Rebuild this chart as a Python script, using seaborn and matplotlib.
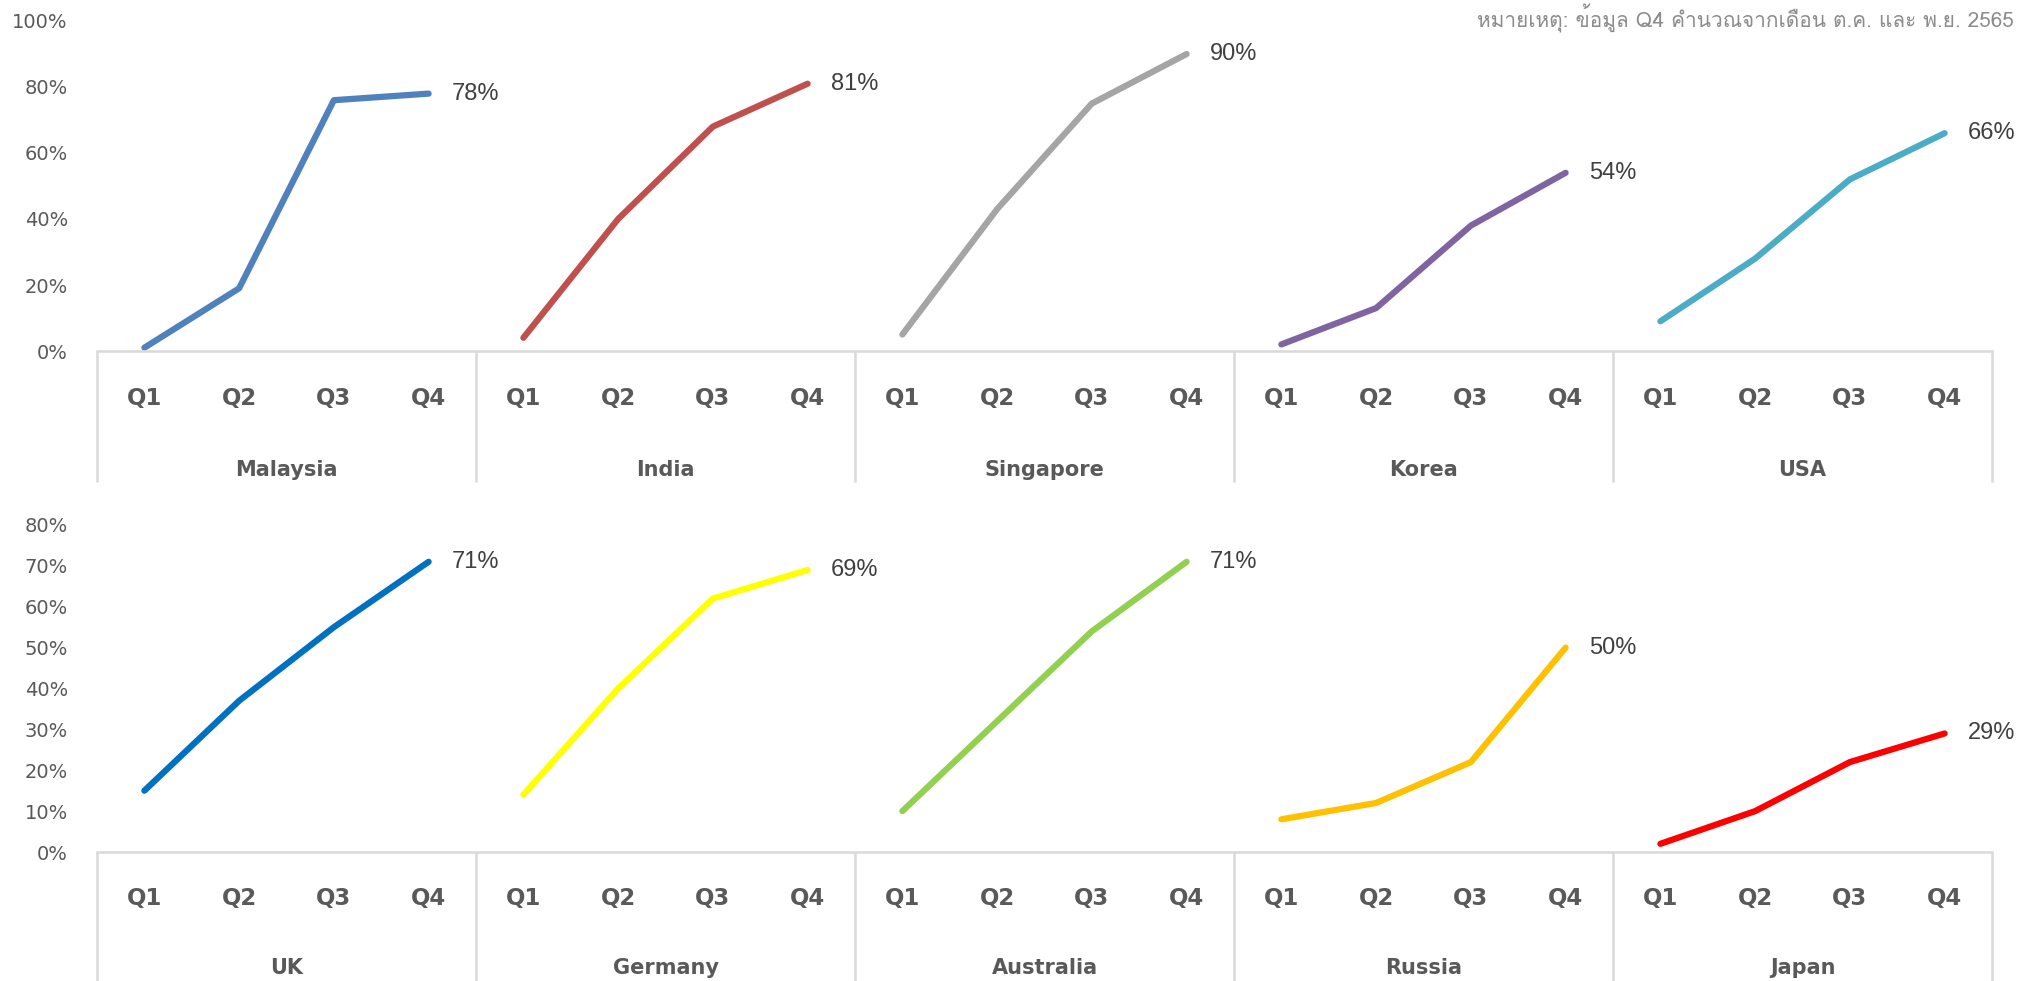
import numpy as np
import pandas as pd
import matplotlib
matplotlib.use("Agg")
import matplotlib.pyplot as plt
import seaborn as sns
from matplotlib import font_manager, ft2font

# ---------------- data ----------------
quarters = ["Q1", "Q2", "Q3", "Q4"]

top_countries = ["Malaysia", "India", "Singapore", "Korea", "USA"]
malaysia = [1, 19, 76, 78]
india = [4, 40, 68, 81]
singapore = [5, 43, 75, 90]
korea = [2, 13, 38, 54]
usa = [9, 28, 52, 66]
top_values = [malaysia, india, singapore, korea, usa]
top_colors = ["#4F81BD", "#C0504D", "#A5A5A5", "#8064A2", "#4BACC6"]
top_ticks = [0, 20, 40, 60, 80, 100]

bottom_countries = ["UK", "Germany", "Australia", "Russia", "Japan"]
uk = [15, 37, 55, 71]
germany = [14, 40, 62, 69]
australia = [10, 32, 54, 71]
russia = [8, 12, 22, 50]
japan = [2, 10, 22, 29]
bottom_values = [uk, germany, australia, russia, japan]
bottom_colors = ["#0070C0", "#FFFF00", "#92D050", "#FFC000", "#FF0000"]
bottom_ticks = [0, 10, 20, 30, 40, 50, 60, 70, 80]

note = "หมายเหตุ: ข้อมูล Q4 คำนวณจากเดือน ต.ค. และ พ.ย. 2565"

# ---------------- style ----------------
sns.set_theme(style="white")
plt.rcParams["font.family"] = ["DejaVu Sans"]

thai_font = None
for f in font_manager.fontManager.ttflist:
    try:
        cmap = ft2font.FT2Font(f.fname).get_charmap()
        if 0x0E2B in cmap and 0x0E04 in cmap:
            thai_font = f.name
            break
    except Exception:
        pass

W, H = 2018, 981
fig = plt.figure(figsize=(W / 100, H / 100), dpi=100)
fig.patch.set_facecolor("white")

GRID = "#D9D9D9"
TXT = "#595959"


def make_df(countries, values):
    rows = []
    for gi, (c, vals) in enumerate(zip(countries, values)):
        for qi, (q, v) in enumerate(zip(quarters, vals)):
            rows.append({"country": c, "quarter": q, "pos": gi * len(quarters) + qi, "value": v})
    return pd.DataFrame(rows)


def panel(rect, countries, values, colors, yticks, q_y, c_y, sep_bottom):
    ax = fig.add_axes(rect)
    df = make_df(countries, values)
    pal = dict(zip(countries, colors))
    sns.lineplot(data=df, x="pos", y="value", hue="country", palette=pal,
                 legend=False, ax=ax, linewidth=4.5, sort=False,
                 solid_capstyle="round", solid_joinstyle="round")
    n = len(countries) * len(quarters)
    ax.set_xlim(-0.5, n - 0.5)
    ax.set_ylim(yticks[0], yticks[-1])
    ax.set_yticks(yticks)
    ax.set_yticklabels([f"{t}%" for t in yticks])
    ax.tick_params(axis="y", length=0, pad=21, labelsize=14, labelcolor=TXT)
    ax.set_xticks([])
    ax.set_xlabel("")
    ax.set_ylabel("")
    for s in ["top", "right", "left"]:
        ax.spines[s].set_visible(False)
    ax.spines["bottom"].set_color(GRID)
    ax.spines["bottom"].set_linewidth(1.8)
    ax.patch.set_alpha(0)

    tr = ax.get_xaxis_transform()
    # group separators
    for gi in range(len(countries) + 1):
        xb = gi * len(quarters) - 0.5
        ax.plot([xb, xb], [0, sep_bottom], transform=tr, color=GRID, lw=1.8,
                clip_on=False, solid_capstyle="butt")
    # category labels
    for _, r in df.iterrows():
        ax.text(r["pos"], q_y, r["quarter"], transform=tr, ha="center", va="center",
                fontsize=16.5, fontweight="bold", color=TXT)
    for gi, c in enumerate(countries):
        xc = gi * len(quarters) + (len(quarters) - 1) / 2
        ax.text(xc, c_y, c, transform=tr, ha="center", va="center",
                fontsize=15, fontweight="bold", color=TXT)
    # end labels
    for c in countries:
        last = df[df["country"] == c].iloc[-1]
        ax.annotate(f"{int(last['value'])}%", xy=(last["pos"], last["value"]),
                    xytext=(17, 0), textcoords="offset points", ha="left", va="center",
                    fontsize=17, color="#404040", family=["Liberation Sans", "DejaVu Sans"])
    return ax


left = 97 / W
width = (1992 - 97) / W

panel([left, 1 - 351 / H, width, 330 / H], top_countries, top_values, top_colors,
      top_ticks, q_y=-47 / 330, c_y=-(470 - 351) / 330, sep_bottom=-(482 - 351) / 330)

panel([left, 1 - 852 / H, width, 327 / H], bottom_countries, bottom_values, bottom_colors,
      bottom_ticks, q_y=-(898 - 852) / 327, c_y=-(968 - 852) / 327,
      sep_bottom=-(995 - 852) / 327)

fam = [thai_font, "DejaVu Sans"] if thai_font else ["DejaVu Sans"]
fig.text(2014 / W, 1 - 4 / H, note, ha="right", va="top", fontsize=15,
         color="#8C8C8C", family=fam)

fig.savefig("out.png", dpi=100, facecolor="white")
